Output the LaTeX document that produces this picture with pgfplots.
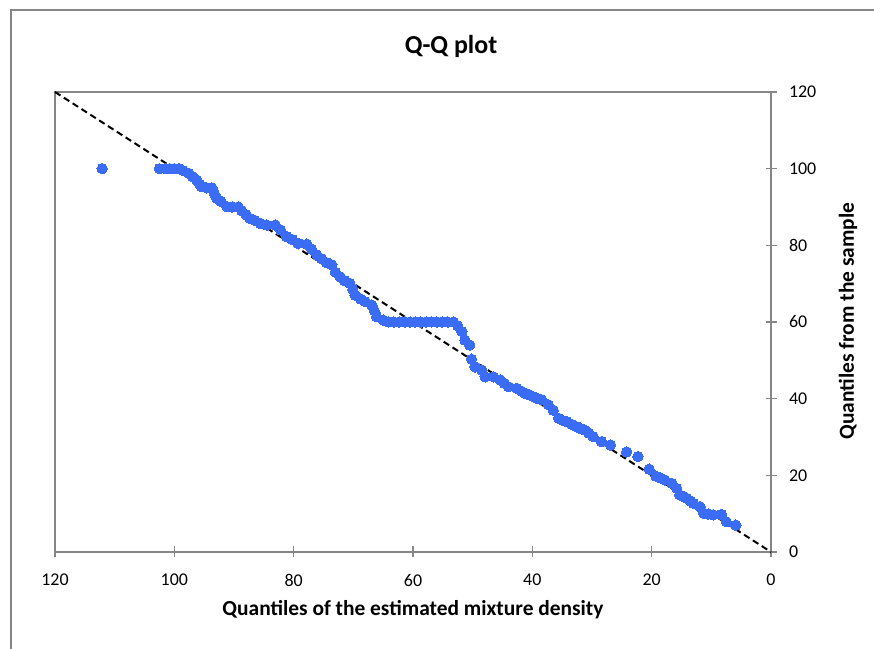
\documentclass[border=0pt]{standalone}
\usepackage{fontspec}
\setmainfont{Carlito}
\usepackage{pgfplots}
\pgfplotsset{compat=1.18}
\definecolor{ptblue}{RGB}{58,108,246}
\definecolor{axgray}{RGB}{134,134,134}
\begin{document}
\begin{tikzpicture}[x=1bp,y=1bp]
\useasboundingbox (0,0) rectangle (874,649);
\draw[axgray, line width=1.2bp] (11,0) -- (11,639) -- (874,639);
\begin{axis}[
  at={(55bp,97bp)}, anchor=south west,
  scale only axis, width=716bp, height=460bp,
  x dir=reverse, xmin=0, xmax=120, ymin=0, ymax=120,
  xtick={0,20,...,120}, ytick={0,20,...,120},
  axis line style={axgray, line width=1.2bp},
  tick style={axgray, line width=1.2bp},
  major tick length=11bp, tick align=center,
  xtick pos=bottom, ytick pos=right, yticklabel pos=right,
  ticklabel style={font=\fontsize{18}{21}\selectfont, text=black},
  xticklabel style={yshift=-13bp},
  yticklabel style={xshift=9bp},
  /pgf/number format/assume math mode=true,
  clip=false,
]
\addplot[black, dash pattern=on 6.5bp off 4bp, line width=2bp] coordinates {(120,120) (0,0)};
\addplot[ptblue, only marks, mark=*, mark size=5.2bp, mark options={solid, fill=ptblue, draw=ptblue, line width=0pt}] table {
x y
112.1 100
102.5 100
101.5 100
100.8 100
100 100
99.2 100
98.5 99.5
97.6 98.8
97 98
96.2 97
95.8 96
95.4 95.3
94.6 95
93.7 95
93.3 93.5
92.9 92.3
92.2 91.5
91.2 90.1
90.3 90
89.3 90
88.7 89
88 88
87.3 87
86.5 86.5
85.6 85.7
84.5 85.3
83.1 85.3
82.2 84
81.2 82.3
80.2 81.5
79.2 80.5
77.8 80.3
77 79
76.1 77.5
75.3 76.5
74.5 75.5
73.6 74.9
73 73
72.2 71.8
71.5 70.8
70.6 70.1
70.1 68.5
69.7 67
68.8 66
68 65.3
66.9 64.4
66.5 63
66.1 61.4
65 60.5
64.1 60
63.2 60
62.3 60
61.4 60
60.5 60
59.6 60
58.7 60
57.8 60
56.9 60
56 60
55.1 60
54.2 60
53.2 60
52.5 59
51.8 57.5
51.3 55.3
50.5 54
50.2 50.3
49.6 48.3
48.5 47.5
47.9 45.7
46.5 45.7
45.4 44.9
44.7 44
44 43.1
42.6 42.7
41.9 42
41.2 41.4
40.5 41
39.8 40.5
39.1 40
38.4 39.7
37.3 38.4
36.5 37
35.6 34.9
34.9 34.3
34.2 34
33.4 33.3
32.6 32.7
31.9 32.2
31.2 31.8
30.5 31
29.8 30.1
28.4 28.8
26.9 27.9
24.2 26.1
22.3 24.9
20.4 21.6
19.3 19.8
18.5 19.3
17.8 18.8
16.6 17.9
15.8 16.6
15.3 14.9
14.7 14.5
14.1 14
13.5 13.3
13 12.7
11.9 11.8
11.3 10.1
10.5 9.9
9.7 9.7
8.3 9.8
7.5 7.9
5.9 7.0
};
\end{axis}
\node[font=\bfseries\fontsize{26}{30}\selectfont] at (451,603) {Q-Q plot};
\node[font=\bfseries\fontsize{21.5}{25}\selectfont] at (413,39) {Quantiles of the estimated mixture density};
\node[font=\bfseries\fontsize{21.5}{25}\selectfont, rotate=90] at (848,328) {Quantiles from the sample};
\end{tikzpicture}
\end{document}
